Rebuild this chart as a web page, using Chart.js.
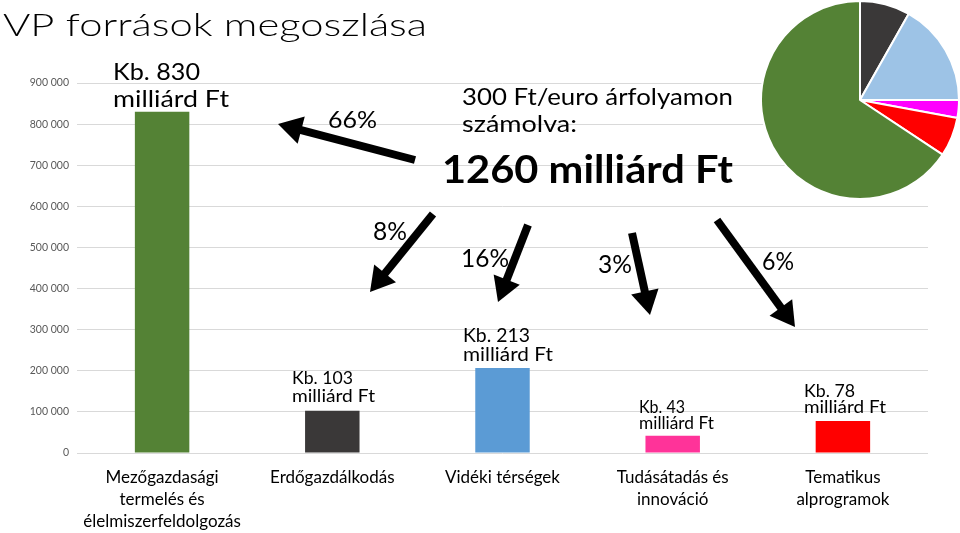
<!DOCTYPE html>
<html>
<head>
<meta charset="utf-8">
<script src="https://cdn.jsdelivr.net/npm/chart.js@4/dist/chart.umd.min.js"></script>
<style>
  html, body { margin: 0; padding: 0; background: #ffffff; }
  #wrap { position: relative; width: 960px; height: 533px; overflow: hidden; }
  #bar { position: absolute; left: 0; top: 0; }
  #pie { position: absolute; left: 760px; top: 0; }
</style>
</head>
<body>
<div id="wrap">
  <canvas id="bar" width="960" height="533"></canvas>
  <canvas id="pie" width="200" height="200"></canvas>
</div>
<script>
// ---- data ----
const categories = [
  ["Mezőgazdasági", "termelés és", "élelmiszerfeldolgozás"],
  "Erdőgazdálkodás",
  "Vidéki térségek",
  ["Tudásátadás és", "innováció"],
  ["Tematikus", "alprogramok"]
];
const barValues = [830000, 103000, 207000, 42000, 78000];
const barColors = ["#548235", "#3a3838", "#5b9bd5", "#ff3399", "#ff0000"];
const yTicks = [0, 100000, 200000, 300000, 400000, 500000, 600000, 700000, 800000, 900000];

const pieLabels = ["Erdőgazdálkodás", "Vidéki térségek", "Tudásátadás és innováció", "Tematikus alprogramok", "Mezőgazdasági termelés és élelmiszerfeldolgozás"];
const pieShares = [8.2, 16.8, 2.9, 6.4, 65.7];
const pieColors = ["#3a3838", "#9dc3e6", "#ff00ff", "#ff0000", "#548235"];

const titleText = "VP források megoszlása";
const valueLabels = [
  ["Kb. 830", "milliárd Ft"],
  ["Kb. 103", "milliárd Ft"],
  ["Kb. 213", "milliárd Ft"],
  ["Kb. 43", "milliárd Ft"],
  ["Kb. 78", "milliárd Ft"]
];
const shareLabels = ["66%", "8%", "16%", "3%", "6%"];
const noteLines = ["300 Ft/euro árfolyamon", "számolva:"];
const totalText = "1260 milliárd Ft";

const fmt = v => String(v).replace(/\B(?=(\d{3})+(?!\d))/g, " ");
const FONT = "Lato, 'Open Sans', 'Liberation Sans', sans-serif";

function fitText(ctx, s, left, base, size, width, weight) {
  ctx.font = (weight || "normal") + " " + size + "px " + FONT;
  const w = ctx.measureText(s).width;
  ctx.save();
  ctx.translate(left, base);
  ctx.scale(width / w, 1);
  ctx.textAlign = "left";
  ctx.textBaseline = "alphabetic";
  ctx.fillStyle = "#000000";
  ctx.fillText(s, 0, 0);
  ctx.restore();
}

function arrow(ctx, x1, y1, x2, y2) {
  const ang = Math.atan2(y2 - y1, x2 - x1);
  const hl = 24, hw = 14, lw = 8;
  const bx = x2 - hl * Math.cos(ang), by = y2 - hl * Math.sin(ang);
  ctx.save();
  ctx.strokeStyle = "#000"; ctx.fillStyle = "#000";
  ctx.lineWidth = lw; ctx.lineCap = "butt";
  ctx.beginPath(); ctx.moveTo(x1, y1); ctx.lineTo(bx + Math.cos(ang), by + Math.sin(ang)); ctx.stroke();
  const px = -Math.sin(ang), py = Math.cos(ang);
  ctx.beginPath();
  ctx.moveTo(x2, y2);
  ctx.lineTo(bx + px * hw, by + py * hw);
  ctx.lineTo(bx - px * hw, by - py * hw);
  ctx.closePath(); ctx.fill();
  ctx.restore();
}

const annotations = {
  id: "annotations",
  afterDraw(chart) {
    const ctx = chart.ctx;
    // title
    fitText(ctx, titleText, 3, 36, 32, 424, "300");
    // value labels (left, baseline line1, baseline line2, size, width1, width2)
    const vl = [
      [113, 80, 107, 23, 87, 116],
      [292, 384, 402, 17.5, 61, 83],
      [463, 342, 361, 19.5, 67, 90],
      [639, 413, 429, 16.5, 46, 75],
      [804, 397, 413, 17, 51, 82]
    ];
    vl.forEach((p, i) => {
      fitText(ctx, valueLabels[i][0], p[0], p[1], p[3], p[4]);
      fitText(ctx, valueLabels[i][1], p[0], p[2], p[3], p[5]);
    });
    // note + total
    fitText(ctx, noteLines[0], 462, 105, 24, 271);
    fitText(ctx, noteLines[1], 462, 132, 24, 115);
    fitText(ctx, totalText, 442, 183, 39, 291, "bold");
    // arrows
    arrow(ctx, 415, 160, 278, 124);
    arrow(ctx, 433, 214, 370, 292);
    arrow(ctx, 528, 225, 498, 302);
    arrow(ctx, 632, 233, 650, 315);
    arrow(ctx, 717, 220, 795, 327);
    // share labels
    const sl = [
      [328, 128, 23, 49],
      [373, 240, 25, 34],
      [461, 267, 25, 48],
      [598, 273, 25, 34],
      [762, 270, 25, 32]
    ];
    sl.forEach((p, i) => fitText(ctx, shareLabels[i], p[0], p[1], p[2], p[3]));
  }
};

new Chart(document.getElementById("bar"), {
  type: "bar",
  data: {
    labels: categories,
    datasets: [{ data: barValues, backgroundColor: barColors, borderWidth: 0,
                 categoryPercentage: 0.8, barPercentage: 0.4 }]
  },
  options: {
    responsive: false,
    animation: false,
    events: [],
    layout: { padding: { top: 83, right: 32, left: 0, bottom: 0 } },
    plugins: { legend: { display: false }, tooltip: { enabled: false } },
    scales: {
      x: {
        grid: { display: false, drawTicks: false },
        border: { display: false },
        ticks: { color: "#000000", font: { family: FONT, size: 17, lineHeight: 1.28 }, padding: 14, maxRotation: 0, autoSkip: false },
        afterFit(s) { s.height = 80; }
      },
      y: {
        min: 0, max: 900000,
        afterBuildTicks(s) { s.ticks = yTicks.map(v => ({ value: v })); },
        grid: { color: "#d9d9d9", lineWidth: 1, drawTicks: false },
        border: { display: false },
        ticks: { color: "#595959", font: { family: FONT, size: 10.5 }, padding: 8, callback: v => fmt(v) },
        afterFit(s) { s.width = 77; }
      }
    }
  },
  plugins: [annotations]
});

new Chart(document.getElementById("pie"), {
  type: "pie",
  data: {
    labels: pieLabels,
    datasets: [{ data: pieShares, backgroundColor: pieColors, borderColor: "#ffffff", borderWidth: 2 }]
  },
  options: {
    responsive: false,
    animation: false,
    events: [],
    layout: { padding: 0 },
    plugins: { legend: { display: false }, tooltip: { enabled: false } }
  }
});
</script>
</body>
</html>
